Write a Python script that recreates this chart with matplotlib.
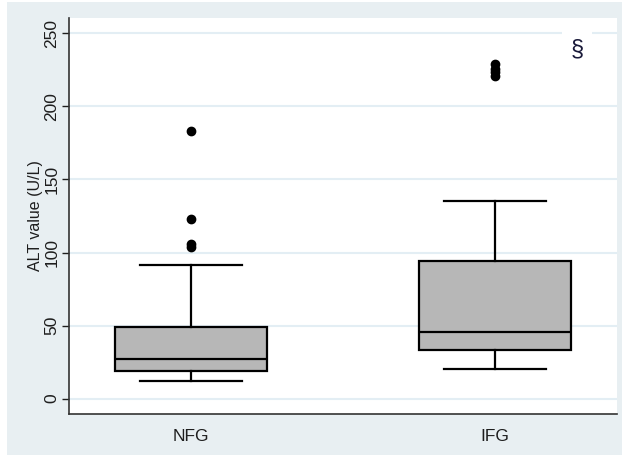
import matplotlib.pyplot as plt
from matplotlib.patches import Rectangle

plt.rcParams['font.family'] = ['Liberation Sans', 'DejaVu Sans']

groups = ['NFG', 'IFG']
q1 = [18.6, 33.2]
med = [27.3, 45.3]
q3 = [48.8, 94.2]
whislo = [12.0, 20.2]
whishi = [91.6, 135.3]
fliers = [[103.5, 105.5, 122.7, 183.2], [221.0, 223.5, 226.0, 229.0]]

stats = []
for i, g in enumerate(groups):
    stats.append({'label': g, 'q1': q1[i], 'med': med[i], 'q3': q3[i],
                  'whislo': whislo[i], 'whishi': whishi[i], 'fliers': fliers[i]})

fig = plt.figure(figsize=(6.24, 4.57), dpi=100)
fig.patch.set_facecolor('white')
fig.patches.append(Rectangle((7 / 624, 2 / 457), 615 / 624, 453 / 457,
                             transform=fig.transFigure, facecolor='#e8eff2',
                             edgecolor='none', zorder=-1))
ax = fig.add_axes([69 / 624, 43 / 457, 548 / 624, 396 / 457])
ax.set_facecolor('white')

ln = dict(color='black', linewidth=1.6)
ax.bxp(stats, positions=[1, 2], widths=0.5, capwidths=0.336, patch_artist=True,
       boxprops=dict(facecolor='#b7b7b7', edgecolor='black', linewidth=1.6),
       medianprops=ln, whiskerprops=ln, capprops=ln,
       flierprops=dict(marker='o', markerfacecolor='black', markeredgecolor='black',
                       markersize=6))

ax.set_xlim(0.6, 2.4)
ax.set_ylim(-10.6, 260.6)
ax.set_yticks([0, 50, 100, 150, 200, 250])
ax.yaxis.grid(True, color='#e3eef4', linewidth=1.5)
ax.set_axisbelow(True)
ax.tick_params(axis='y', labelrotation=90, labelsize=12.5, colors='#1e1e1e', length=5,
               width=1, pad=2)
for t in ax.get_yticklabels():
    t.set_verticalalignment('center')
ax.tick_params(axis='x', length=0, labelsize=12.5, colors='#1e1e1e', pad=11)
ax.set_ylabel('ALT value (U/L)', fontsize=11.5, color='#1e1e1e', labelpad=1)

for s in ['top', 'right']:
    ax.spines[s].set_visible(False)
for s in ['left', 'bottom']:
    ax.spines[s].set_color('#333333')
    ax.spines[s].set_linewidth(1.2)

ax.text(0.927, 239, '\u00a7', transform=ax.get_yaxis_transform(), fontsize=17,
        color='#1a1a3a', ha='center', va='center',
        bbox=dict(facecolor='white', edgecolor='none', pad=6))

fig.savefig('out.png', dpi=100, facecolor=fig.get_facecolor())
